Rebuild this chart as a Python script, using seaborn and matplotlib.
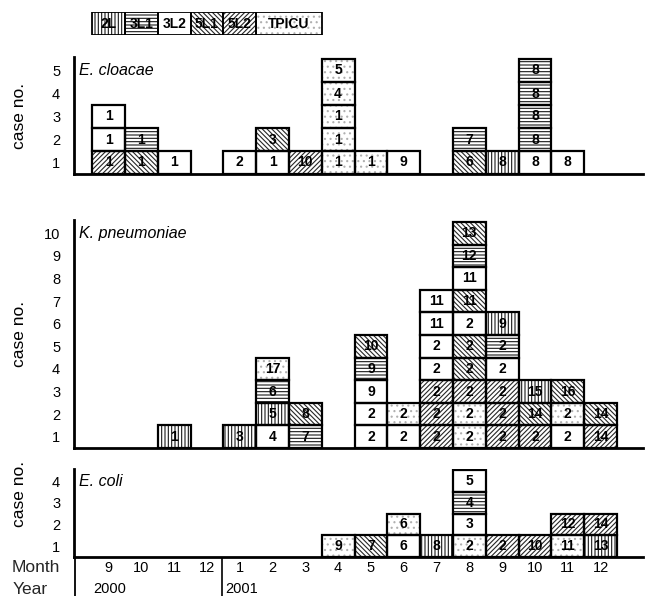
import matplotlib
matplotlib.use("Agg")
import matplotlib.pyplot as plt
import seaborn as sns

sns.set_theme(style="white")
plt.rcParams['font.family'] = ['Liberation Sans', 'DejaVu Sans']
plt.rcParams['hatch.linewidth'] = 0.8

# ---------------- data ----------------
months = ["9", "10", "11", "12", "1", "2", "3", "4", "5", "6", "7", "8", "9", "10", "11", "12"]
years = ["2000", "2001"]
year_start_col = [0, 4]

categories = ["2L", "3L1", "3L2", "5L1", "5L2", "TPICU"]

# stacks per month column, bottom -> top
cloacae_cats = [
    ["5L2", "3L2", "3L2"], ["5L1", "3L1"], ["3L2"], [], ["3L2"], ["3L2", "5L1"], ["5L2"],
    ["TPICU", "TPICU", "TPICU", "TPICU", "TPICU"], ["TPICU"], ["3L2"], [], ["5L1", "3L1"],
    ["2L"], ["3L2", "3L1", "3L1", "3L1", "3L1"], ["3L2"], []]
cloacae_labels = [
    ["1", "1", "1"], ["1", "1"], ["1"], [], ["2"], ["1", "3"], ["10"],
    ["1", "1", "1", "4", "5"], ["1"], ["9"], [], ["6", "7"],
    ["8"], ["8", "8", "8", "8", "8"], ["8"], []]

kpneu_cats = [
    [], [], ["2L"], [], ["2L"], ["3L2", "2L", "3L1", "TPICU"], ["3L1", "5L1"], [],
    ["3L2", "3L2", "3L2", "3L1", "5L1"], ["3L2", "TPICU"],
    ["5L2", "5L2", "5L2", "3L2", "3L2", "3L2", "3L2"],
    ["TPICU", "TPICU", "5L2", "5L1", "5L1", "3L2", "5L1", "3L2", "3L1", "5L1"],
    ["5L2", "5L2", "5L2", "3L2", "3L1", "2L"], ["5L2", "5L1", "2L"],
    ["3L2", "TPICU", "5L1"], ["5L2", "5L1"]]
kpneu_labels = [
    [], [], ["1"], [], ["3"], ["4", "5", "6", "17"], ["7", "8"], [],
    ["2", "2", "9", "9", "10"], ["2", "2"],
    ["2", "2", "2", "2", "2", "11", "11"],
    ["2", "2", "2", "2", "2", "2", "11", "11", "12", "13"],
    ["2", "2", "2", "2", "2", "9"], ["2", "14", "15"],
    ["2", "2", "16"], ["14", "14"]]

coli_cats = [
    [], [], [], [], [], [], [], ["TPICU"], ["5L1"], ["3L2", "TPICU"], ["2L"],
    ["TPICU", "3L2", "3L1", "3L2"], ["5L2"], ["5L2"], ["TPICU", "5L2"], ["2L", "5L2"]]
coli_labels = [
    [], [], [], [], [], [], [], ["9"], ["7"], ["6", "6"], ["8"],
    ["2", "3", "4", "5"], ["2"], ["10"], ["11", "12"], ["13", "14"]]

panel_names = ["E. cloacae", "K. pneumoniae", "E. coli"]
panel_max = [5, 10, 4]

# ---------------- styles ----------------
hatch_of = {"2L": "|||||", "3L1": "-----", "3L2": None,
            "5L1": "\\\\\\\\\\\\\\", "5L2": "///////", "TPICU": "..."}
hcolor_of = {"2L": "#1a1a1a", "3L1": "#1a1a1a", "3L2": "white",
             "5L1": "#262626", "5L2": "#262626", "TPICU": "#b0b0b0"}

W_PX, H_PX = 647, 596
fig = plt.figure(figsize=(W_PX / 100, H_PX / 100), dpi=100)

LEFT_PX, RIGHT_PX = 74, 643
COL0_PX, COL_W = 108.5, 32.8
XMIN = (LEFT_PX - COL0_PX) / COL_W
XMAX = (RIGHT_PX - COL0_PX) / COL_W
L = LEFT_PX / W_PX
W = (RIGHT_PX - LEFT_PX) / W_PX


def add_ax(top_px, bottom_px):
    return fig.add_axes([L, 1 - bottom_px / H_PX, W, (bottom_px - top_px) / H_PX])


def draw_box(ax, x, y0, cat, label, w=1.0, h=1.0, lw=1.6, fs=10):
    hatch = hatch_of[cat]
    if hatch:
        ax.bar(x, h, bottom=y0, width=w, color="white", edgecolor=hcolor_of[cat],
               hatch=hatch, linewidth=0, zorder=2)
    ax.bar(x, h, bottom=y0, width=w, fill=False, edgecolor="black",
           linewidth=lw, zorder=3)
    ax.text(x, y0 + h / 2, label, ha="center", va="center", fontsize=fs,
            fontweight="bold", color="black", zorder=4)


# panels: (top px, bottom px, unit px)
geom = [(57, 174, 23.0), (220, 448, 22.6), (469, 557, 21.7)]
all_cats = [cloacae_cats, kpneu_cats, coli_cats]
all_labels = [cloacae_labels, kpneu_labels, coli_labels]
label_y = [0.5, 0.5, 0.72]

for p in range(3):
    top, bot, unit = geom[p]
    ax = add_ax(top, bot)
    ax.set_xlim(XMIN, XMAX)
    ax.set_ylim(0, (bot - top) / unit)
    for i, (cs, ls) in enumerate(zip(all_cats[p], all_labels[p])):
        for k, (c, lab) in enumerate(zip(cs, ls)):
            draw_box(ax, i, k, c, lab)
    n = panel_max[p]
    ax.set_yticks([k - 0.5 for k in range(1, n + 1)])
    ax.set_yticklabels([str(k) for k in range(1, n + 1)], fontsize=10.5)
    ax.set_xticks([])
    ax.tick_params(axis="y", length=0, pad=10, colors="black")
    for s in ["top", "right"]:
        ax.spines[s].set_visible(False)
    for s in ["left", "bottom"]:
        ax.spines[s].set_color("black")
        ax.spines[s].set_linewidth(2)
    ax.set_ylabel("case no.", fontsize=12.5, color="black")
    ax.yaxis.set_label_coords(-0.083, label_y[p])
    ax.text(0.008, n - 0.5, panel_names[p], transform=ax.get_yaxis_transform(),
            fontsize=11.5, style="italic", ha="left", va="center", color="black")
    ax.set_facecolor("white")

# legend strip
axl = add_ax(12, 35)
axl.set_xlim(XMIN, XMAX)
axl.set_ylim(0, 1)
axl.axis("off")
leg_x = [0, 1, 2, 3, 4, 5.5]
leg_w = [1, 1, 1, 1, 1, 2]
for c, x, w in zip(categories, leg_x, leg_w):
    draw_box(axl, x, 0, c, c, w=w, lw=1.3, fs=10)

# month / year row
axm = add_ax(557, 596)
axm.set_xlim(XMIN, XMAX)
axm.set_ylim(0, 1)
axm.axis("off")
axm.axvline(XMIN + 0.02, color="black", linewidth=1.3)
axm.axvline(3.45, color="black", linewidth=1.2)
for i, m in enumerate(months):
    axm.text(i, (596 - 568) / 39, m, ha="center", va="center", fontsize=10.5, color="black")
for y, c in zip(years, year_start_col):
    axm.text(c - 0.45, (596 - 589) / 39, y, ha="left", va="center", fontsize=10.5, color="black")
fig.text(12 / W_PX, 1 - 568 / H_PX, "Month", ha="left", va="center", fontsize=12.5)
fig.text(13 / W_PX, 1 - 589 / H_PX, "Year", ha="left", va="center", fontsize=12.5)

fig.savefig("out.png", dpi=100, facecolor="white")
